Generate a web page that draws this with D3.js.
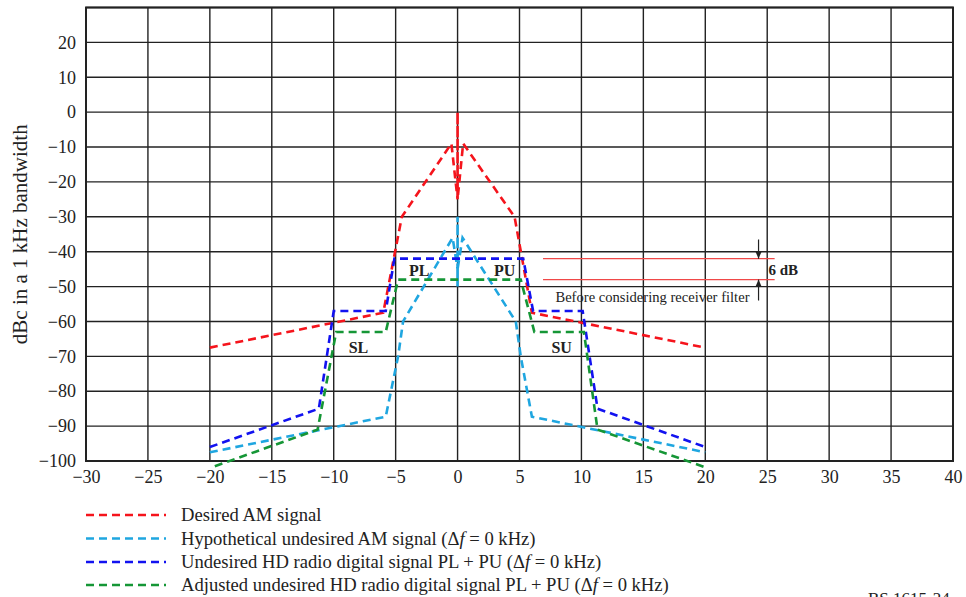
<!DOCTYPE html>
<html><head><meta charset="utf-8">
<script src="https://cdn.jsdelivr.net/npm/d3@7"></script>
<style>
body{margin:0;background:#fff;}
svg{display:block;}
text{font-family:"Liberation Serif","Times New Roman",serif;fill:#222;}
</style></head>
<body>
<script>
// ---- data ----
const xTicks = [-30,-25,-20,-15,-10,-5,0,5,10,15,20,25,30,35,40];
const yTicks = [-100,-90,-80,-70,-60,-50,-40,-30,-20,-10,0,10,20];
const desiredAM = [[-20,-67.5],[-6,-57.5],[-4.5,-30],[-0.5,-9],[0,-25],[0,0],[0,-25],[0.45,-9],[4.6,-30],[6,-57.5],[20,-67.5]];
const hypotheticalAM = [[-20,-97.5],[-5.8,-87.3],[-4.8,-70],[-4.4,-60],[-0.4,-36],[0,-45],[0,-30],[0,-50],[0,-45],[0.4,-36],[4.7,-60],[5.1,-70],[6,-87.3],[20,-97.5]];
const undesiredHD = [[-20,-96],[-11.2,-85],[-10,-57],[-5.8,-57],[-5.1,-42],[5.3,-42],[6.1,-57],[10.1,-57],[11.3,-85],[20,-96]];
const adjustedHD = [[-19.6,-101.5],[-11.3,-91],[-9.8,-63],[-5.8,-63],[-4.8,-48],[5.1,-48],[6.2,-63],[10.2,-63],[11.3,-91],[20,-101.8]];
const seriesNames = ["Desired AM signal","Hypothetical undesired AM signal (","Undesired HD radio digital signal PL + PU (","Adjusted undesired HD radio digital signal PL + PU ("];
const seriesColors = ["#f5141c","#1fa6e0","#1212f0","#159636"];
const bandLabels = [["PL",-3.1,-45.6],["PU",3.8,-45.6],["SL",-8,-67.6],["SU",8.4,-67.6]];
const refLevels = [-42,-48];

// ---- layout ----
const W=966,H=597;
const svg=d3.select("body").append("svg").attr("width",W).attr("height",H);
const x=d3.scaleLinear().domain([-30,40]).range([86,953]);
const y=d3.scaleLinear().domain([-100,30]).range([461,7.5]);

// grid
const g=svg.append("g");
g.selectAll("line.v").data(xTicks).join("line")
 .attr("x1",d=>x(d)).attr("x2",d=>x(d)).attr("y1",y(30)).attr("y2",y(-100))
 .attr("stroke","#222").attr("stroke-width",1.4);
g.selectAll("line.h").data(yTicks.concat([30])).join("line")
 .attr("x1",x(-30)).attr("x2",x(40)).attr("y1",d=>y(d)).attr("y2",d=>y(d))
 .attr("stroke","#222").attr("stroke-width",1.4);
g.append("rect").attr("x",x(-30)).attr("y",y(30)).attr("width",x(40)-x(-30)).attr("height",y(-100)-y(30))
 .attr("fill","none").attr("stroke","#222").attr("stroke-width",2);

// axes
const fmt=d=>d<0?"\u2212"+Math.abs(d):String(d);
const xa=svg.append("g").attr("transform",`translate(0,${y(-100)})`)
 .call(d3.axisBottom(x).tickValues(xTicks).tickSize(0).tickPadding(9).tickFormat(fmt));
xa.select(".domain").remove();
xa.selectAll("text").attr("font-size",18).attr("fill","#222");
const ya=svg.append("g").attr("transform",`translate(${x(-30)},0)`)
 .call(d3.axisLeft(y).tickValues(yTicks).tickSize(0).tickPadding(10).tickFormat(fmt));
ya.select(".domain").remove();
ya.selectAll("text").attr("font-size",18).attr("fill","#222");

svg.append("text").attr("transform",`translate(27,${(y(30)+y(-100))/2}) rotate(-90)`)
 .attr("text-anchor","middle").attr("font-size",21).text("dBc in a 1 kHz bandwidth");

// series
const line=d3.line().x(d=>x(d[0])).y(d=>y(d[1]));
const all=[desiredAM,hypotheticalAM,undesiredHD,adjustedHD];
const drawOrder=[1,0,2,3];
drawOrder.forEach(i=>{
  svg.append("path").attr("d",line(all[i])).attr("fill","none")
   .attr("stroke",seriesColors[i]).attr("stroke-width",2.6).attr("stroke-dasharray","8,5");
});

// band labels
svg.selectAll("text.band").data(bandLabels).join("text")
 .attr("x",d=>x(d[1])).attr("y",d=>y(d[2])+5).attr("text-anchor","middle")
 .attr("font-size",16).attr("font-weight","bold").attr("fill","#333").text(d=>d[0]);

// annotation
refLevels.forEach(v=>{
  svg.append("line").attr("x1",x(6.9)).attr("x2",x(25.6)).attr("y1",y(v)).attr("y2",y(v))
   .attr("stroke","#f04848").attr("stroke-width",1.4);
});
const ax=x(24.3);
svg.append("line").attr("x1",ax).attr("x2",ax).attr("y1",y(-36.5)).attr("y2",y(-42)).attr("stroke","#222").attr("stroke-width",1.2);
svg.append("line").attr("x1",ax).attr("x2",ax).attr("y1",y(-48)).attr("y2",y(-54)).attr("stroke","#222").attr("stroke-width",1.2);
svg.append("path").attr("d",`M${ax-3},${y(-42)-7}L${ax+3},${y(-42)-7}L${ax},${y(-42)}Z`).attr("fill","#222");
svg.append("path").attr("d",`M${ax-3},${y(-48)+7}L${ax+3},${y(-48)+7}L${ax},${y(-48)}Z`).attr("fill","#222");
svg.append("text").attr("x",x(25.1)).attr("y",y(-46.8)).attr("font-size",15).attr("font-weight","bold").text("6 dB");
svg.append("text").attr("x",x(7.9)).attr("y",y(-54.3)).attr("font-size",14.6).attr("fill","#333").text("Before considering receiver filter");

// legend
const ly=[515,538.5,562,585];
seriesNames.forEach((n,i)=>{
  svg.append("line").attr("x1",86).attr("x2",166).attr("y1",ly[i]).attr("y2",ly[i])
   .attr("stroke",seriesColors[i]).attr("stroke-width",2.6).attr("stroke-dasharray","8,5");
  const t=svg.append("text").attr("x",181).attr("y",ly[i]+6).attr("font-size",18.6);
  t.append("tspan").text(n);
  if(i>0){
    t.append("tspan").text("\u0394");
    t.append("tspan").attr("font-style","italic").text("f");
    t.append("tspan").text(" = 0 kHz)");
  }
});
svg.append("text").attr("x",868).attr("y",604).attr("font-size",17).text("BS.1615-24");
</script>
</body></html>
